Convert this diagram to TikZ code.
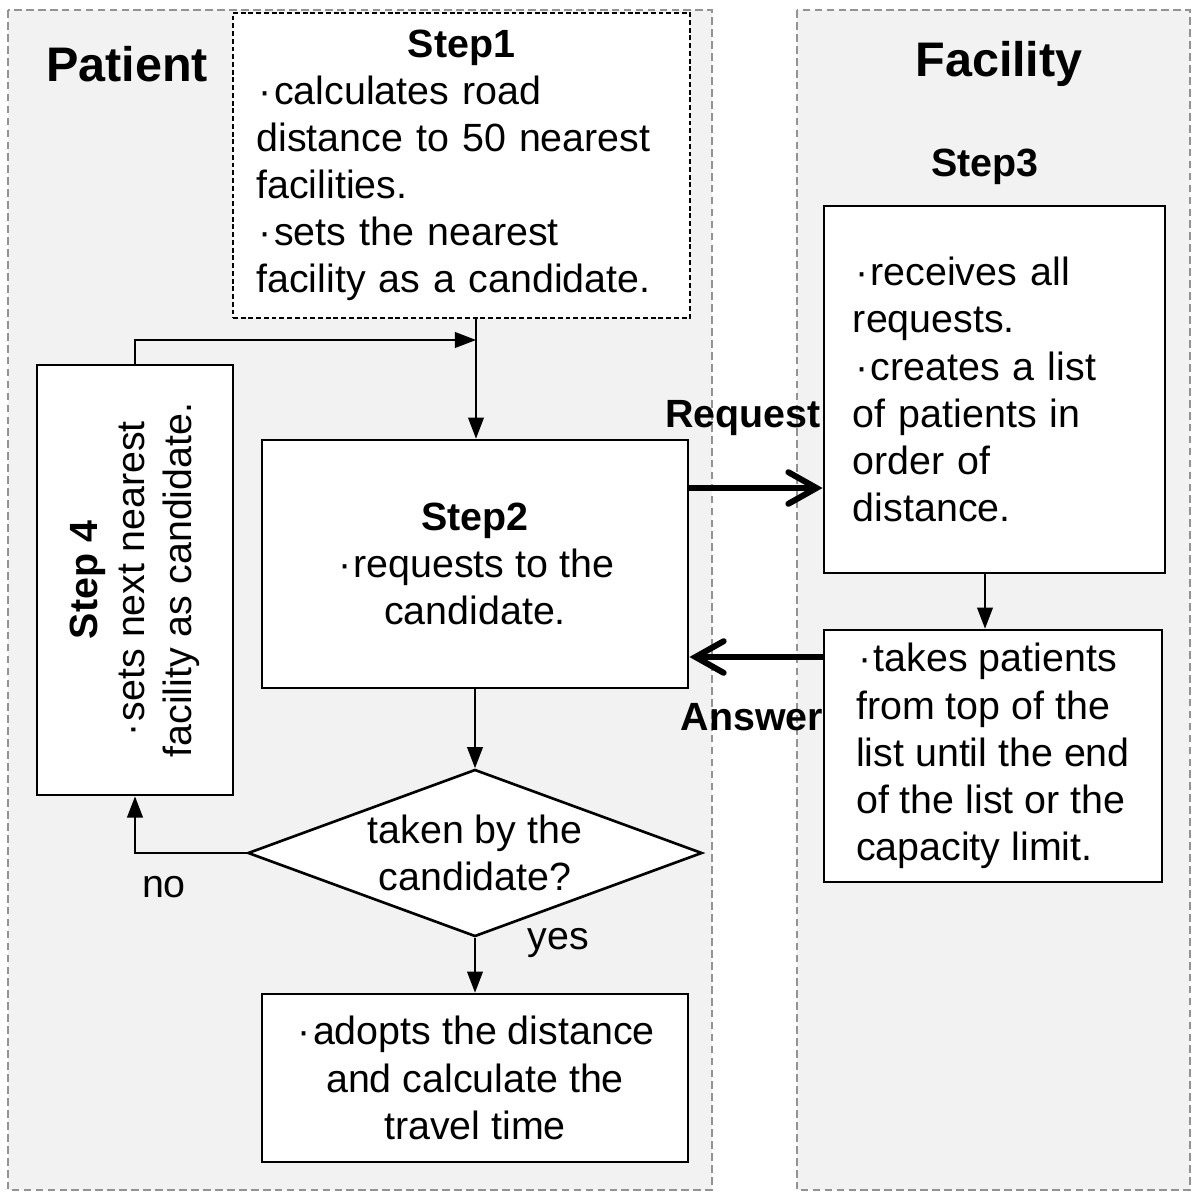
\documentclass[tikz,border=0pt]{standalone}
\usepackage{fontspec}
\setmainfont{Liberation Sans}
\usepackage{graphicx}
\usetikzlibrary{arrows.meta,shapes.geometric,positioning}
\newcommand{\bodyfont}{\fontsize{11.2}{13.4}\selectfont}
\newcommand{\bul}{\makebox[0.45em]{\textperiodcentered}}
\tikzstyle{lane} = [draw=gray!85, fill=gray!10, dash pattern=on 2.2pt off 1.2pt, line width=0.5pt]
\tikzstyle{proc} = [rectangle, draw, fill=white, line width=0.75pt, inner sep=0pt]
\tikzstyle{dashbox} = [proc, dash pattern=on 1.4pt off 0.8pt]
\tikzstyle{decision} = [diamond, draw, fill=white, line width=0.75pt, inner sep=0pt]
\tikzstyle{lanetitle} = [font=\fontsize{13.8}{16}\selectfont\bfseries]
\tikzstyle{steplabel} = [font=\bodyfont\bfseries]
\tikzstyle{flow} = [-{Triangle[length=6pt,width=4.5pt]}, line width=0.4pt]
\tikzstyle{bigflow} = [-{Straight Barb[length=8pt,width=9pt,line cap=round]}, line width=1.7pt]

\begin{document}
\begin{tikzpicture}[x=0.01cm,y=-0.01cm,font=\bodyfont]
  \useasboundingbox (0,0) rectangle (1200,1200);
  % lanes
  \draw[lane] (8,10) rectangle (712,1190);
  \draw[lane] (797,10) rectangle (1190,1190);
  \node[lanetitle] (patient) at (127,64) {Patient};
  \node[lanetitle] (facility) at (999,64) {Facility};

  % patient side
  \node[dashbox, minimum width=4.57cm, minimum height=3.05cm, text width=4.1cm, align=left] (step1) at (461.5,165.5)
    {\makebox[\linewidth]{\bfseries Step1}\\ \bul calculates road\\ distance to 50 nearest\\ facilities.\\ \bul sets the nearest\\ facility as a candidate.};
  \node[proc, minimum width=4.26cm, minimum height=2.48cm, align=center] (step2) at (475,564)
    {\textbf{Step2}\\ \bul requests to the\\ candidate.};
  \node[proc, minimum width=1.96cm, minimum height=4.3cm] (step4) at (135,580)
    {\rotatebox{90}{\begin{tabular}{@{}c@{}}\textbf{Step 4}\\ \bul sets next nearest\\ facility as candidate.\end{tabular}}};
  \node[decision, minimum width=4.54cm, minimum height=1.67cm] (dec) at (475,853) {};
  \node[align=center] (dectext) at (dec) {taken by the\\ candidate?};
  \node[proc, minimum width=4.26cm, minimum height=1.68cm, align=center] (adopt) at (475,1078)
    {\bul adopts the distance\\ and calculate the\\ travel time};

  % facility side
  \node[steplabel] (step3title) at (985,167) {Step3};
  \node[proc, minimum width=3.41cm, minimum height=3.67cm, text width=2.83cm, align=left] (step3) at (994.5,389.5)
    {\bul receives all\\ requests.\\ \bul creates a list\\ of patients in\\ order of\\ distance.};
  \node[proc, minimum width=3.38cm, minimum height=2.52cm, align=left] (take) at (993,756)
    {\bul takes patients\\ from top of the\\ list until the end\\ of the list or the\\ capacity limit.};
  \node[steplabel] (request) at (743,418) {Request};
  \node[steplabel] (answer) at (752,717) {Answer};

  \coordinate (merge) at (476,340);
  \coordinate (reqy) at (0,488);
  \coordinate (ansy) at (0,657);
  \coordinate (s3x) at (985,0);

  \draw[flow] (step1.south -| merge) -- (step2.north -| merge);
  \draw[flow] (step4.north) |- (merge);
  \draw[flow] (step2.south) -- (dec.north);
  \draw[flow] (dec.west) -| node[pos=0.37, below=3pt] (nolabel) {no} (step4.south);
  \draw[flow] (dec.south) -- node[pos=0.1, right=0.4cm] (yeslabel) {yes} (adopt.north);
  \draw[flow] (step3.south -| s3x) -- (take.north -| s3x);
  \draw[bigflow] (step2.east |- reqy) -- (step3.west |- reqy);
  \draw[bigflow] (take.west |- ansy) -- (step2.east |- ansy);
\end{tikzpicture}
\end{document}
